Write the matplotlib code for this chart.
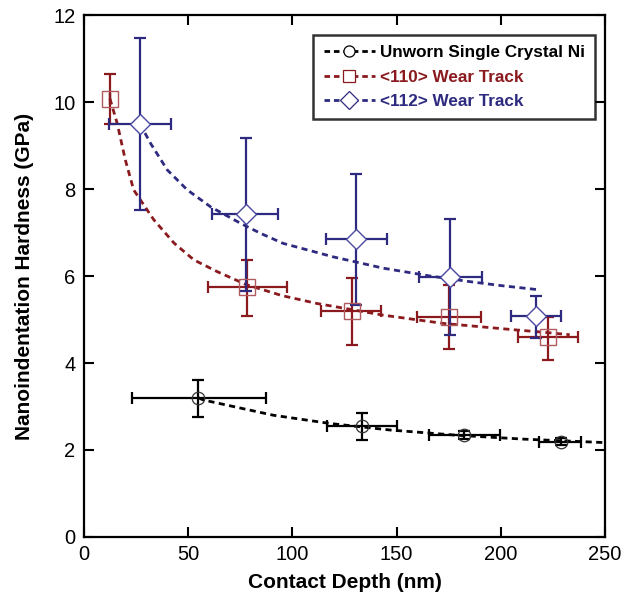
import matplotlib
matplotlib.use('Agg')
import matplotlib.pyplot as plt
from matplotlib.lines import Line2D

plt.rcParams['font.family'] = ['Liberation Sans', 'DejaVu Sans']

black = '#000000'
red = '#8b1a1f'
blue = '#2d2a80'

# Unworn single crystal Ni
ni_x = [54.8, 133.2, 182.3, 228.7]
ni_y = [3.20, 2.55, 2.35, 2.19]
ni_xlo = [31.8, 16.5, 16.6, 10.4]
ni_xhi = [32.5, 16.8, 17.3, 9.9]
ni_ylo = [0.43, 0.32, 0.09, 0.08]
ni_yhi = [0.42, 0.31, 0.08, 0.08]
ni_fit_x = [55, 57.3, 90.8, 118, 146.8, 178.8, 210.8, 250]
ni_fit_y = [3.20, 3.15, 2.80, 2.61, 2.46, 2.34, 2.25, 2.17]

# <110> wear track
w110_x = [12.5, 78.2, 128.4, 175.3, 222.8]
w110_y = [10.08, 5.75, 5.20, 5.06, 4.60]
w110_xlo = [0.0, 18.7, 14.8, 15.4, 14.4]
w110_xhi = [0.0, 19.2, 13.9, 15.2, 14.4]
w110_ylo = [0.58, 0.67, 0.79, 0.74, 0.53]
w110_yhi = [0.56, 0.62, 0.76, 0.73, 0.45]
w110_fit_x = [12.5, 16, 19.9, 23.9, 33.6, 43.2, 52.8, 64, 78, 95, 111.6, 143.6, 172.4, 205, 222, 233]
w110_fit_y = [10.08, 9.51, 8.67, 7.98, 7.29, 6.76, 6.37, 6.10, 5.80, 5.55, 5.37, 5.10, 4.91, 4.77, 4.70, 4.65]

# <112> wear track
w112_x = [26.9, 77.6, 130.5, 175.6, 216.9]
w112_y = [9.50, 7.42, 6.85, 5.98, 5.07]
w112_xlo = [14.9, 15.9, 14.5, 14.7, 12.0]
w112_xhi = [14.7, 15.7, 14.9, 15.4, 12.0]
w112_ylo = [1.98, 1.76, 1.52, 1.34, 0.49]
w112_yhi = [1.97, 1.75, 1.49, 1.32, 0.46]
w112_fit_x = [26.9, 32, 40, 49.6, 60.8, 75.2, 84.8, 95.6, 119.6, 143.6, 166, 185.2, 200, 217]
w112_fit_y = [9.50, 9.05, 8.44, 7.98, 7.59, 7.21, 6.98, 6.75, 6.44, 6.18, 6.00, 5.87, 5.78, 5.69]

fig = plt.figure(figsize=(6.35, 6.01), dpi=100)
ax = fig.add_axes([0.132, 0.1065, 0.821, 0.8685])

dash = (0, (2.2, 1.6))
ax.plot(ni_fit_x, ni_fit_y, color=black, lw=2.0, ls=dash, zorder=2)
ax.plot(w110_fit_x, w110_fit_y, color=red, lw=2.0, ls=dash, zorder=2)
ax.plot(w112_fit_x, w112_fit_y, color=blue, lw=2.0, ls=dash, zorder=2)

ek = dict(fmt='none', elinewidth=1.6, capsize=4, capthick=1.6, zorder=3)
ax.errorbar(ni_x, ni_y, xerr=[ni_xlo, ni_xhi], yerr=[ni_ylo, ni_yhi], ecolor=black, **ek)
ax.errorbar(w110_x, w110_y, xerr=[w110_xlo, w110_xhi], yerr=[w110_ylo, w110_yhi], ecolor=red, **ek)
ax.errorbar(w112_x, w112_y, xerr=[w112_xlo, w112_xhi], yerr=[w112_ylo, w112_yhi], ecolor=blue, **ek)

ax.plot(ni_x, ni_y, 'o', ms=9, mfc='none', mec='#333333', mew=0.9, zorder=4)
ax.plot(w110_x, w110_y, 's', ms=11, mfc='none', mec='#b05a5e', mew=1.0, zorder=4)
ax.plot(w112_x, w112_y, 'D', ms=10.5, mfc='white', mec='#4a48a0', mew=1.0, zorder=4)

ax.set_xlim(0, 250)
ax.set_ylim(0, 12)
ax.set_xticks([0, 50, 100, 150, 200, 250])
ax.set_yticks([0, 2, 4, 6, 8, 10, 12])
ax.tick_params(direction='in', length=7, width=1.5, labelsize=14.5,
               top=True, right=True, pad=6)
for s in ax.spines.values():
    s.set_linewidth(1.6)

ax.set_xlabel('Contact Depth (nm)', fontsize=15, fontweight='bold', labelpad=6)
ax.set_ylabel('Nanoindentation Hardness (GPa)', fontsize=15, fontweight='bold', labelpad=14)

handles = [
    Line2D([], [], color=black, ls=(0, (2, 1.4)), lw=2, marker='o', ms=8, mfc='white', mec=black, mew=0.9),
    Line2D([], [], color=red, ls=(0, (2, 1.4)), lw=2, marker='s', ms=9, mfc='white', mec=red, mew=0.9),
    Line2D([], [], color=blue, ls=(0, (2, 1.4)), lw=2, marker='D', ms=9, mfc='white', mec=blue, mew=0.9),
]
labels = ['Unworn Single Crystal Ni', '<110> Wear Track', '<112> Wear Track']
leg = ax.legend(handles, labels, loc='upper right', bbox_to_anchor=(0.981, 0.962),
                borderaxespad=0, frameon=True, fancybox=False, edgecolor='black',
                handlelength=3.0, handletextpad=0.3, borderpad=0.6, labelspacing=0.55,
                prop={'weight': 'bold', 'size': 12.3})
leg.get_frame().set_linewidth(1.8)
for t, c in zip(leg.get_texts(), [black, red, blue]):
    t.set_color(c)

fig.savefig('out.png', dpi=100)
